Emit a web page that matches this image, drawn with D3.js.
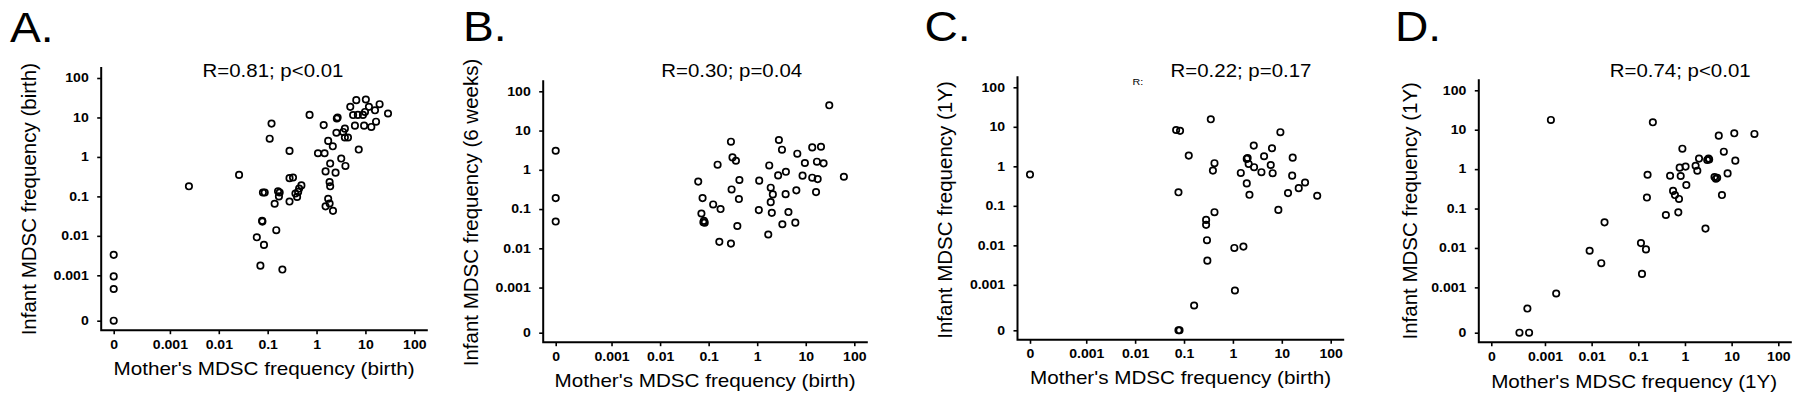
<!DOCTYPE html>
<html><head><meta charset="utf-8">
<script src="https://cdn.jsdelivr.net/npm/d3@7"></script>
<style>
body{margin:0;background:#fff}
svg{display:block}
text{font-family:"Liberation Sans",Arial,Helvetica,sans-serif;fill:#000}
</style>
</head><body>
<svg id="chart" width="1800" height="402"></svg>
<script>
// ---------- data ----------
const xTickValues = [0, 0.001, 0.01, 0.1, 1, 10, 100];
const xTickLabels = ["0", "0.001", "0.01", "0.1", "1", "10", "100"];
const yTickValues = [0, 0.001, 0.01, 0.1, 1, 10, 100];
const yTickLabels = ["0", "0.001", "0.01", "0.1", "1", "10", "100"];

const panelLetters = ["A.", "B.", "C.", "D."];
const panelTitles = ["R=0.81; p<0.01", "R=0.30; p=0.04", "R=0.22; p=0.17", "R=0.74; p<0.01"];
const xAxisLabels = ["Mother's MDSC frequency (birth)", "Mother's MDSC frequency (birth)",
                     "Mother's MDSC frequency (birth)", "Mother's MDSC frequency (1Y)"];
const yAxisLabels = ["Infant MDSC frequency (birth)", "Infant MDSC frequency (6 weeks)",
                     "Infant MDSC frequency (1Y)", "Infant MDSC frequency (1Y)"];

const motherA = [0,0,0,0, 0.00245,0.026,0.12,0.11,0.28,0.72, 0.08,0.087,0.139,0.163,0.176,0.17,
  0.28,0.28,0.33,0.37,0.40,0.42,0.44,0.49, 0.077,0.078,0.15,0.06,0.084,0.071,0.2,
  1.07,1.46,1.4,1.73,2.15,2.6,2.7,2.55, 1.53,1.9,2.45,1.85,1.9,1.53,1.73,1.85,2.17,
  3.2,3.9,3.5,3.8,4.4,3.8, 4.9,5.6,6.1,6.5,7.0,7.3,8.9,9.4,9.8,10.2,11.8,13.2,15.7,16.5,19.5,29];
const infantA = [0.0033,0.00094,0.00045,0, 0.18,0.35,7.0,2.9,1.42,11.6, 0.125,0.125,0.065,0.135,0.125,0.1,
  0.074,0.29,0.3,0.118,0.097,0.13,0.158,0.19, 0.024,0.023,0.0139,0.0092,0.0059,0.00176,0.0014,
  1.24,1.24,6.4,2.55,1.86,9.4,10.0,4.1, 0.43,0.68,0.40,0.23,0.18,0.056,0.087,0.066,0.043,
  0.91,0.59,4.3,5.2,3.1,3.1, 18.6,11.5,6.2,27.5,11.6,1.54,11.6,6.2,13.8,28.5,18.6,5.75,15.2,7.8,21.7,12.6];

const motherB = [0,0,0, 0.061,0.075,0.071,0.078,0.083,0.08,
  0.124,0.176,0.153,0.166,0.288,0.31,0.365,0.297,0.288,0.43,0.42,0.39,
  1.10,1.08,1.77,1.9,2.1,1.9,2.0,1.69, 2.8,3.24,2.7,3.9,3.85,4.4,3.3,
  6.7,6.4,6.1,8.6,9.6,13.6,20.6,13.6,17.6,17,23.3,16.3,30.5,61];
const infantB = [3.06,0.19,0.048, 0.50,0.19,0.077,0.046,0.045,0.05,
  0.131,0.10,1.35,0.0146,5.2,2.07,1.70,0.316,0.0132,0.55,0.18,0.037,
  0.53,0.094,1.29,0.35,0.236,0.15,0.080,0.0225, 5.74,3.25,0.72,0.89,0.24,0.084,0.041,
  2.57,0.30,0.045,0.71,1.49,3.72,3.87,0.63,0.58,1.61,1.46,0.27,44,0.665];

const motherC = [0, 0.069,0.083,0.077,0.077,0.081, 0.125,0.161,0.353,0.42,0.39,0.42,
  0.283,0.283,0.295,0.30, 1.07,1.64,1.1,1.45,1.92,1.92,2.0,2.18,2.1,2.71,
  2.67,3.83,4.34,5.94,6.3,6.5,9.35,8.5, 16.7,16.3,13.4,22.2,29.9,53];
const infantC = [0.62, 8.3,7.9,0.22,0,0, 1.87,0.0003,15.5,1.2,0.78,0.069,
  0.044,0.033,0.0135,0.0041, 0.0086,0.0093,0.00072,0.68,0.37,1.54,1.62,0.19,1.15,0.95,
  3.35,0.71,1.8,1.08,2.87,0.67,7.3,0.079, 1.66,0.58,0.21,0.28,0.39,0.18];

const motherD = [0.000284,0.000457,0.00042,0.00134,0.00174,0.00906,0.0161,0.0189,0.114,0.146,
  0.12,0.158,0.153,0.205,0.39,0.48,0.556,0.61,0.745,0.72,0.77,0.81,0.88,1.03,1.07,1.69,1.84,
  2.0,2.75,3.0,3.2,3.3,4.3,4.6,4.9,5.3,6.2,6.8,8.2,11.4,12.0,30.8];
const infantD = [0,0,0.00029,17.7,0.0007,0.0085,0.0041,0.0447,0.0133,0.0092,
  0.0022,0.72,0.19,15.4,0.0686,0.68,0.28,0.22,0.175,0.08,1.09,0.67,3.3,1.16,0.395,1.22,0.91,
  1.85,0.031,1.7,1.85,1.75,0.63,0.57,0.6,7.07,0.22,2.77,0.78,8.1,1.64,7.8];

const strayNote = "R:";

// ---------- layout ----------
const ZERO = Math.pow(10, -4.15); // where "0" sits on the log axes
const pos = v => (v === 0 ? ZERO : v);

const layouts = [
  {xr:[113.7,414.3], yr:[320.7,78],   lx:10,    ly:41.7, tx:273,    ty:77,   xlx:264,    xly:375,   ylx:35.7,   yly:199.2},
  {xr:[555.7,854.3], yr:[332.7,91.3], lx:463,   ly:40.7, tx:731.7,  ty:76.7, xlx:705,    xly:387,   ylx:478.3,  yly:212.5},
  {xr:[1030,1330.7], yr:[330.3,87.3], lx:924.5, ly:40.7, tx:1241,   ty:76.7, xlx:1180.5, xly:383.5, ylx:951.7,  yly:210},
  {xr:[1491.3,1778.3], yr:[332.7,90.3], lx:1395, ly:41,  tx:1680.2, ty:76.7, xlx:1634.2, xly:387.5, ylx:1416.7, yly:210.8}
];
const seriesX = [motherA, motherB, motherC, motherD];
const seriesY = [infantA, infantB, infantC, infantD];

const svg = d3.select("#chart");

function stretch(sel, k) {
  sel.each(function () {
    const w = this.getComputedTextLength();
    this.setAttribute("textLength", (w * k).toFixed(2));
    this.setAttribute("lengthAdjust", "spacingAndGlyphs");
  });
}

layouts.forEach((L, i) => {
  const g = svg.append("g");
  const x = d3.scaleLog().domain([ZERO, 100]).range(L.xr);
  const y = d3.scaleLog().domain([ZERO, 100]).range(L.yr);

  const xAxis = d3.axisBottom(x)
    .tickValues(xTickValues.map(pos))
    .tickFormat((d, j) => xTickLabels[j])
    .tickSize(4).tickPadding(6).tickSizeOuter(0);
  const yAxis = d3.axisLeft(y)
    .tickValues(yTickValues.map(pos))
    .tickFormat((d, j) => yTickLabels[j])
    .tickSize(4).tickPadding(8.5).tickSizeOuter(0);

  const axisY0 = L.yr[0] + 9.5;
  const axisX0 = L.xr[0] - 12.5;

  const gx = g.append("g").attr("transform", `translate(0,${axisY0})`).call(xAxis);
  const gy = g.append("g").attr("transform", `translate(${axisX0},0)`).call(yAxis);
  [gx, gy].forEach(ax => {
    ax.select(".domain").remove();
    ax.selectAll(".tick line").attr("stroke", "#000").attr("stroke-width", 1.6);
    ax.selectAll(".tick text")
      .attr("font-family", '"Liberation Sans",Arial,sans-serif')
      .attr("font-size", 12).attr("font-weight", "bold").attr("fill", "#000");
    stretch(ax.selectAll(".tick text"), 1.17);
  });

  // axis lines
  g.append("path")
    .attr("d", `M${axisX0},${L.yr[1] - 10}V${axisY0}H${L.xr[1] + 12.5}`)
    .attr("fill", "none").attr("stroke", "#000").attr("stroke-width", 2)
    .attr("stroke-linecap", "square");

  // points
  const pts = seriesX[i].map((v, j) => ({m: v, n: seriesY[i][j]}));
  g.append("g").selectAll("circle").data(pts).join("circle")
    .attr("cx", d => x(pos(d.m)))
    .attr("cy", d => y(pos(d.n)))
    .attr("r", 3.2)
    .attr("fill", "none").attr("stroke", "#000").attr("stroke-width", 1.7);

  // panel letter
  const lt = g.append("text").attr("x", L.lx).attr("y", L.ly)
    .attr("font-size", 42).text(panelLetters[i]);
  stretch(lt, 1.1);

  // title
  const tt = g.append("text").attr("x", L.tx).attr("y", L.ty)
    .attr("text-anchor", "middle").attr("font-size", 17.7).text(panelTitles[i]);
  stretch(tt, 1.155);

  // x label
  const xl = g.append("text").attr("x", L.xlx).attr("y", L.xly)
    .attr("text-anchor", "middle").attr("font-size", 18.6).text(xAxisLabels[i]);
  stretch(xl, 1.11);

  // y label
  g.append("text")
    .attr("transform", `translate(${L.ylx},${L.yly}) rotate(-90)`)
    .attr("text-anchor", "middle").attr("font-size", 20.5).text(yAxisLabels[i]);

  if (i === 2) {
    const st = g.append("text").attr("x", 1132.5).attr("y", 85)
      .attr("font-size", 9.3).text(strayNote);
    stretch(st, 1.15);
  }
});
</script>
</body></html>
